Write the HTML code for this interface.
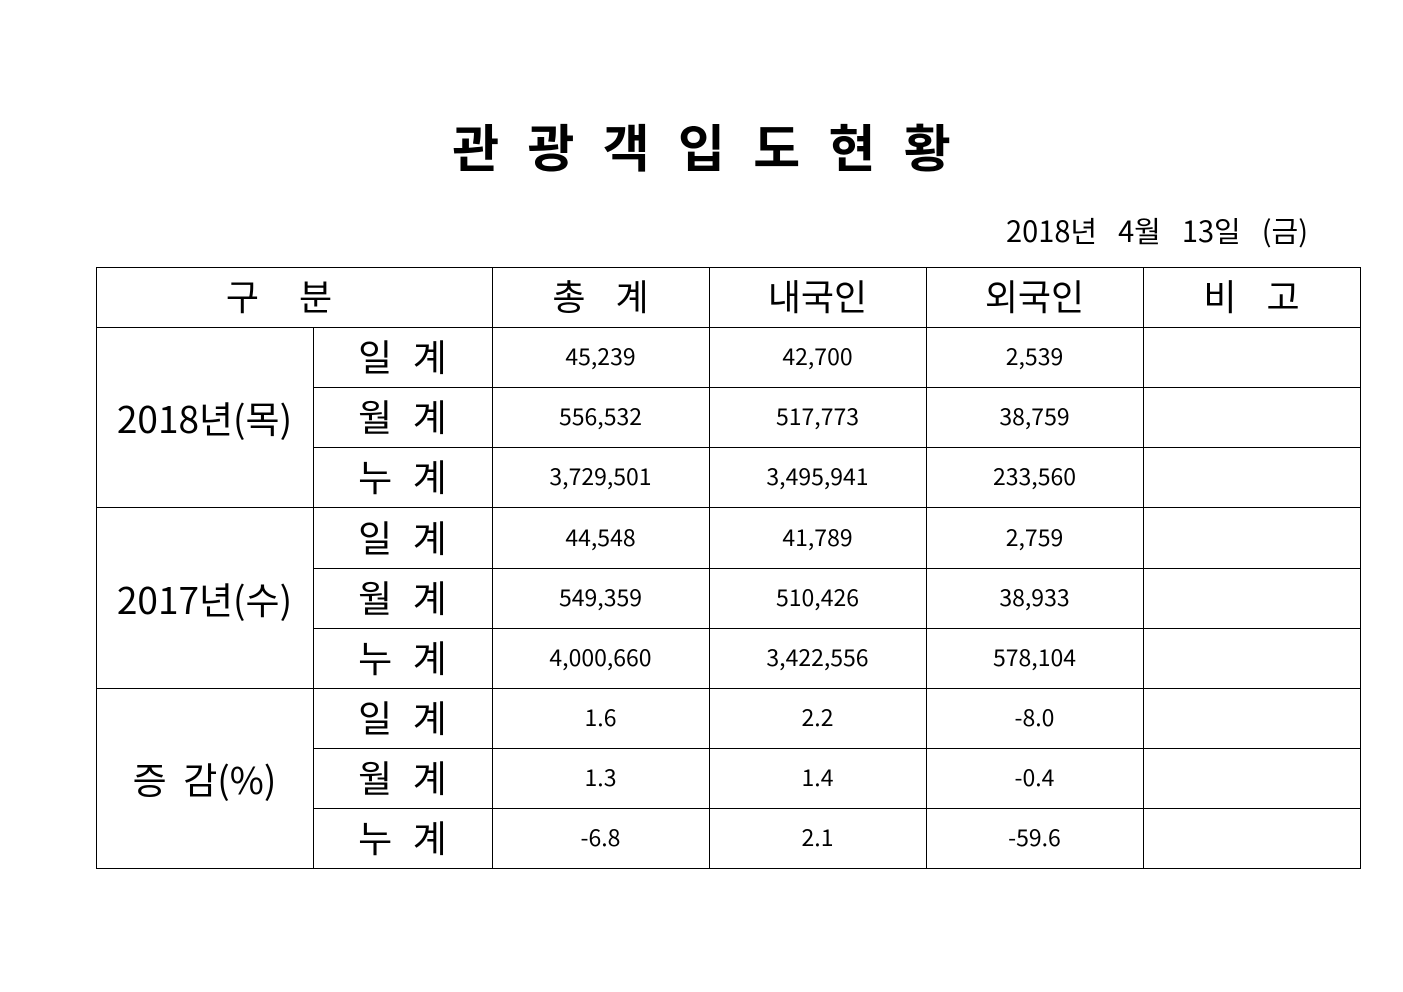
<!DOCTYPE html>
<html><head><meta charset="utf-8"><style>
body{margin:0;background:#fff;width:1403px;height:992px;position:relative;overflow:hidden;font-family:"Liberation Sans","Noto Sans CJK KR",sans-serif;color:#000}
.l{position:absolute;background:#000}
.c{position:absolute;display:flex;align-items:center;justify-content:center;white-space:pre}
.n{font-size:23px;font-family:"Noto Sans CJK KR",sans-serif}
.h{font-size:36px}
.s{font-size:37px}
.y{font-size:37px;font-family:"Noto Sans CJK KR",sans-serif}
</style></head><body>
<div class="c" style="left:300px;top:110px;width:803px;height:70px;font-size:51px;font-weight:bold;letter-spacing:0px">관  광  객  입  도  현  황</div>
<div class="c" style="top:210px;width:400px;height:40px;font-size:29px;justify-content:flex-end;right:95px;font-family:'Noto Sans CJK KR',sans-serif;word-spacing:4px">2018년  4월  13일  (금)</div>

<div class="l" style="left:96px;top:267px;width:1265px;height:1px"></div>
<div class="l" style="left:96px;top:327px;width:1265px;height:1px"></div>
<div class="l" style="left:313px;top:387px;width:1048px;height:1px"></div>
<div class="l" style="left:313px;top:447px;width:1048px;height:1px"></div>
<div class="l" style="left:96px;top:507px;width:1265px;height:1px"></div>
<div class="l" style="left:313px;top:568px;width:1048px;height:1px"></div>
<div class="l" style="left:313px;top:628px;width:1048px;height:1px"></div>
<div class="l" style="left:96px;top:688px;width:1265px;height:1px"></div>
<div class="l" style="left:313px;top:748px;width:1048px;height:1px"></div>
<div class="l" style="left:313px;top:808px;width:1048px;height:1px"></div>
<div class="l" style="left:96px;top:868px;width:1265px;height:1px"></div>

<div class="l" style="left:96px;top:267px;width:1px;height:602px"></div>
<div class="l" style="left:313px;top:327px;width:1px;height:542px"></div>
<div class="l" style="left:492px;top:267px;width:1px;height:602px"></div>
<div class="l" style="left:709px;top:267px;width:1px;height:602px"></div>
<div class="l" style="left:926px;top:267px;width:1px;height:602px"></div>
<div class="l" style="left:1143px;top:267px;width:1px;height:602px"></div>
<div class="l" style="left:1360px;top:267px;width:1px;height:602px"></div>

<div class="c h" style="left:96px;top:265px;width:396px;height:60px">구    분   </div>
<div class="c h" style="left:492px;top:265px;width:217px;height:60px">총   계</div>
<div class="c h" style="left:709px;top:265px;width:217px;height:60px">내국인</div>
<div class="c h" style="left:926px;top:265px;width:217px;height:60px">외국인</div>
<div class="c h" style="left:1143px;top:265px;width:217px;height:60px">비   고</div>

<div class="c y" style="left:96px;top:327px;width:217px;height:180px">2018년(목)</div>
<div class="c y" style="left:96px;top:507px;width:217px;height:181px">2017년(수)</div>
<div class="c y" style="left:96px;top:688px;width:217px;height:180px">증  감(%)</div>

<div class="c s" style="left:313px;top:325px;width:179px;height:60px">일  계</div>
<div class="c s" style="left:313px;top:385px;width:179px;height:60px">월  계</div>
<div class="c s" style="left:313px;top:445px;width:179px;height:60px">누  계</div>
<div class="c s" style="left:313px;top:505px;width:179px;height:61px">일  계</div>
<div class="c s" style="left:313px;top:566px;width:179px;height:60px">월  계</div>
<div class="c s" style="left:313px;top:626px;width:179px;height:60px">누  계</div>
<div class="c s" style="left:313px;top:686px;width:179px;height:60px">일  계</div>
<div class="c s" style="left:313px;top:746px;width:179px;height:60px">월  계</div>
<div class="c s" style="left:313px;top:806px;width:179px;height:60px">누  계</div>

<div class="c n" style="left:492px;top:325px;width:217px;height:60px">45,239</div>
<div class="c n" style="left:709px;top:325px;width:217px;height:60px">42,700</div>
<div class="c n" style="left:926px;top:325px;width:217px;height:60px">2,539</div>
<div class="c n" style="left:492px;top:385px;width:217px;height:60px">556,532</div>
<div class="c n" style="left:709px;top:385px;width:217px;height:60px">517,773</div>
<div class="c n" style="left:926px;top:385px;width:217px;height:60px">38,759</div>
<div class="c n" style="left:492px;top:445px;width:217px;height:60px">3,729,501</div>
<div class="c n" style="left:709px;top:445px;width:217px;height:60px">3,495,941</div>
<div class="c n" style="left:926px;top:445px;width:217px;height:60px">233,560</div>
<div class="c n" style="left:492px;top:505px;width:217px;height:61px">44,548</div>
<div class="c n" style="left:709px;top:505px;width:217px;height:61px">41,789</div>
<div class="c n" style="left:926px;top:505px;width:217px;height:61px">2,759</div>
<div class="c n" style="left:492px;top:566px;width:217px;height:60px">549,359</div>
<div class="c n" style="left:709px;top:566px;width:217px;height:60px">510,426</div>
<div class="c n" style="left:926px;top:566px;width:217px;height:60px">38,933</div>
<div class="c n" style="left:492px;top:626px;width:217px;height:60px">4,000,660</div>
<div class="c n" style="left:709px;top:626px;width:217px;height:60px">3,422,556</div>
<div class="c n" style="left:926px;top:626px;width:217px;height:60px">578,104</div>
<div class="c n" style="left:492px;top:686px;width:217px;height:60px">1.6</div>
<div class="c n" style="left:709px;top:686px;width:217px;height:60px">2.2</div>
<div class="c n" style="left:926px;top:686px;width:217px;height:60px">-8.0</div>
<div class="c n" style="left:492px;top:746px;width:217px;height:60px">1.3</div>
<div class="c n" style="left:709px;top:746px;width:217px;height:60px">1.4</div>
<div class="c n" style="left:926px;top:746px;width:217px;height:60px">-0.4</div>
<div class="c n" style="left:492px;top:806px;width:217px;height:60px">-6.8</div>
<div class="c n" style="left:709px;top:806px;width:217px;height:60px">2.1</div>
<div class="c n" style="left:926px;top:806px;width:217px;height:60px">-59.6</div>
</body></html>
